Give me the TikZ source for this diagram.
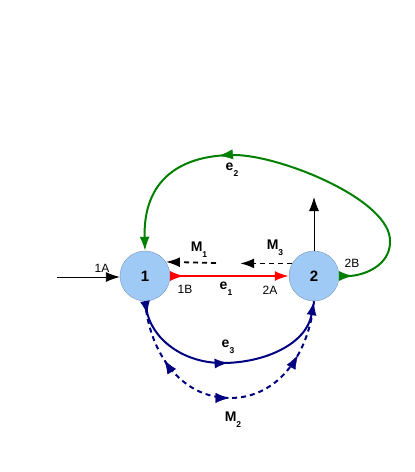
\documentclass[tikz,border=0pt]{standalone}
\usepackage{fontspec}
\setmainfont{Liberation Sans}
\usetikzlibrary{arrows.meta,decorations.markings}
\definecolor{nodefill}{RGB}{158,202,245}
\definecolor{nodeline}{RGB}{120,150,180}
\definecolor{egreen}{RGB}{0,128,0}
\definecolor{enavy}{RGB}{0,0,128}
\definecolor{ered}{RGB}{255,0,0}
\newcommand{\sbl}[2]{#1\raisebox{-6pt}{\fontsize{8.5}{8.5}\selectfont #2}}
\begin{document}
\begin{tikzpicture}[x=1pt,y=1pt,
  state/.style={circle,draw=nodeline,fill=nodefill,minimum size=50pt,inner sep=0pt,font=\fontsize{15}{15}\selectfont\bfseries},
  port/.style={font=\fontsize{12}{12}\selectfont,inner sep=0pt},
  lbl/.style={font=\fontsize{14}{14}\selectfont\bfseries,inner sep=0pt},
  >={Latex[length=14pt,width=10pt]},
  both/.style={arrows={Latex[length=14pt,width=10pt,reversed]-Latex[length=14pt,width=10pt]}},
  thin line/.style={line width=0.9pt,black},
  thick line/.style={line width=2pt},
  dash line/.style={dash pattern=on 5pt off 4pt},
  midfwd/.style={postaction={decorate},decoration={markings,mark=at position #1 with {\arrow[solid]{Latex[length=14pt,width=10pt]}}}},
  midrev/.style={postaction={decorate},decoration={markings,mark=at position #1 with {\arrowreversed[solid]{Latex[length=14pt,width=10pt]}}}}
]
\useasboundingbox (0,0) rectangle (415,-472);

\node[state] (n1) at (145,-276) {1};
\node[state] (n2) at (314,-276) {2};

\coordinate (inA) at (57,-277);
\coordinate (upB) at (314,-197);
\coordinate (g1) at (390,-242);
\coordinate (g2) at (234,-155);
\coordinate (b1) at (222,-363);
\coordinate (d1) at (230,-398);
\coordinate (m1s) at (216,-263);

% input arrow 1A
\draw[thin line,->] (inA) -- (n1.west |- inA);
% output arrow up from 2
\draw[thin line,->] (n2.north) -- (upB);

% e1 red
\draw[ered,thick line,both] (n1.east) -- (n2.west);

% M1 and M3 dashed
\draw[black,line width=1.8pt,dash line,->] (m1s) -- (n1.34);
\draw[black,line width=1.8pt,dash line,->] (n2.150) -- ++(-52,0) coordinate (m3e);

% e2 green
\draw[egreen,thick line,both] (n2.east) to[out=0,in=-90] (g1) .. controls (392,-200) and (280,-155) .. (g2) .. controls (180,-155) and (143,-180) .. (n1.north);
\path[postaction={decorate},decoration={markings,mark=at position 0.6 with {\arrow[egreen]{Latex[length=14pt,width=10pt]}}}] (g1) .. controls (392,-200) and (280,-155) .. (g2) .. controls (180,-155) and (143,-180) .. (n1.north);

% e3 navy
\draw[enavy,thick line,both,midfwd=0.5] (n1.south) to[out=-80,in=180] (b1) to[out=0,in=-100] (n2.south);

% M2 navy dashed
\draw[enavy,line width=2pt,dash line,midrev=0.22,midfwd=0.5] (n1.south) to[out=-85,in=180] (d1) to[out=0,in=-95] (n2.south);
\path[postaction={decorate},decoration={markings,mark=at position 0.8 with {\arrow[enavy]{Latex[length=14pt,width=10pt]}}}] (n1.south) to[out=-85,in=180] (d1) to[out=0,in=-95] (n2.south);

% labels
\node[port] (l1a) at (102,-268) {1A};
\node[port] (l1b) at (185,-289) {1B};
\node[port] (l2a) at (270,-290) {2A};
\node[port] (l2b) at (352,-263) {2B};
\node[lbl] (le1) at (226,-289) {\sbl{e}{1}};
\node[lbl] (lm1) at (199,-250) {\sbl{M}{1}};
\node[lbl] (lm3) at (275,-248) {\sbl{M}{3}};
\node[lbl] (le2) at (232,-170) {\sbl{e}{2}};
\node[lbl] (le3) at (228,-347) {\sbl{e}{3}};
\node[lbl] (lm2) at (233,-420) {\sbl{M}{2}};
\end{tikzpicture}
\end{document}
